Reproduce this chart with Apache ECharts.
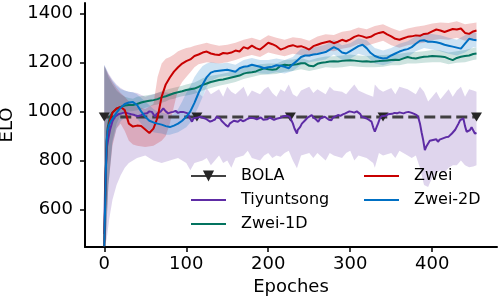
<!DOCTYPE html>
<html>
<head>
<meta charset="utf-8">
<script src="https://cdn.jsdelivr.net/npm/echarts@6/dist/echarts.min.js"></script>
<style>html,body{margin:0;padding:0;background:#fff}#c{width:500px;height:300px}</style>
</head>
<body>
<div id="c"></div>
<script>
// ---- data ----
const X_TICKS = [0, 100, 200, 300, 400];
const Y_TICKS = [600, 800, 1000, 1200, 1400];

const EPOCHS = [0,1,2,3,4,6,8,
  10,15,20,25,30,35,40,45,50,55,
  60,65,70,75,80,85,90,95,100,105,
  110,115,120,125,130,135,140,145,150,155,
  160,165,170,175,180,185,190,195,200,205,
  210,215,220,225,230,235,240,245,250,255,
  260,265,270,275,280,285,290,295,300,305,
  310,315,320,325,330,335,340,345,350,355,
  360,365,370,375,380,385,390,395,400,405,
  410,415,420,425,430,435,440,445,450,
  454];

const ZWEI = [450,610,770,875,915,950,975,
  995,1012,1018,1005,950,938,942,940,926,912,
  930,975,1060,1110,1138,1162,1180,1195,1205,1212,
  1226,1232,1240,1244,1236,1232,1230,1238,1236,1240,
  1248,1244,1262,1256,1268,1258,1252,1266,1280,1274,
  1266,1252,1258,1266,1270,1264,1266,1260,1252,1266,
  1272,1278,1282,1286,1278,1284,1292,1286,1294,1304,
  1310,1306,1300,1304,1314,1320,1324,1314,1306,1296,
  1292,1298,1304,1306,1310,1308,1316,1318,1326,1334,
  1330,1324,1330,1336,1334,1338,1320,1316,1326,
  1330];

const ZWEI_2D = [450,600,760,880,920,945,960,
  970,995,1015,1030,1036,1038,1026,1000,978,962,
  955,950,946,940,936,942,950,962,978,1000,
  1035,1075,1110,1140,1158,1164,1166,1168,1170,1166,
  1162,1176,1182,1184,1190,1186,1182,1176,1180,1182,
  1188,1186,1182,1176,1192,1206,1222,1228,1228,1232,
  1234,1238,1242,1252,1262,1254,1240,1236,1246,1256,
  1266,1272,1258,1238,1226,1220,1216,1218,1228,1236,
  1244,1250,1254,1262,1276,1288,1290,1284,1284,1282,
  1278,1272,1268,1264,1260,1256,1276,1296,1292,
  1290];

const ZWEI_1D = [450,620,780,880,930,965,985,
  995,1010,1018,1024,1026,1026,1030,1036,1040,1043,
  1046,1050,1057,1062,1068,1074,1078,1082,1087,1090,
  1093,1100,1108,1114,1120,1124,1128,1130,1134,1138,
  1142,1146,1154,1158,1160,1163,1170,1176,1172,1170,
  1172,1186,1190,1188,1190,1192,1196,1196,1186,1184,
  1194,1198,1200,1203,1204,1203,1206,1208,1209,1207,
  1205,1203,1204,1202,1203,1205,1206,1208,1210,1211,
  1210,1216,1222,1218,1216,1220,1223,1224,1226,1225,
  1224,1222,1215,1209,1218,1223,1226,1228,1234,
  1236];

const BAND_X = [0,2,5,10,15,20,25,30,35,40,50,60,65,70,75,80,85,90,95,100,105,110,115,120,125,130,
  140,150,160,170,180,190,200,210,220,230,
  240,250,260,270,280,290,300,310,320,330,
  340,350,360,370,380,390,400,410,420,430,
  440,450,454];

const ZWEI_LO = [447,500,700,860,930,950,920,880,865,860,855,860,870,880,900,950,1020,1090,1120,1140,1160,1180,1192,1196,1200,1198,
  1195,1200,1210,1222,1230,1222,1240,1232,1225,1235,
  1230,1222,1238,1248,1245,1255,1262,1275,1268,1278,
  1288,1270,1260,1270,1276,1280,1290,1295,1292,1300,
  1288,1292,1295];
const ZWEI_HI = [1185,1170,1150,1120,1095,1075,1060,1040,1025,1020,1010,1030,1140,1195,1215,1222,1232,1245,1252,1258,1262,1268,1272,1276,1280,1275,
  1268,1272,1280,1292,1300,1290,1310,1300,1292,1302,
  1298,1288,1305,1315,1312,1325,1330,1342,1335,1348,
  1355,1340,1328,1338,1345,1350,1358,1362,1360,1368,
  1355,1360,1362];

const ZWEI_2D_LO = [447,480,700,870,930,960,975,985,985,970,930,915,912,910,905,905,910,915,925,935,955,985,1020,1060,1100,1125,
  1140,1145,1138,1155,1162,1155,1152,1160,1155,1165,
  1190,1200,1205,1212,1232,1210,1215,1235,1225,1195,
  1188,1198,1212,1222,1245,1258,1252,1245,1235,1228,
  1240,1262,1260];
const ZWEI_2D_HI = [1190,1175,1150,1125,1105,1090,1085,1080,1078,1070,1040,1010,1000,995,990,985,990,1010,1040,1075,1105,1140,1165,1185,1195,1200,
  1195,1198,1190,1210,1218,1210,1210,1216,1210,1222,
  1255,1258,1264,1272,1292,1270,1278,1298,1290,1258,
  1248,1258,1276,1286,1306,1320,1316,1310,1300,1292,
  1310,1322,1320];

const ZWEI_1D_LO = [447,480,700,880,950,985,995,1000,1002,1005,1015,1025,1028,1035,1040,1048,1052,1058,1062,1065,1068,1072,1078,1085,1090,1095,
  1105,1112,1120,1132,1140,1148,1150,1152,1162,1165,
  1172,1165,1172,1180,1178,1180,1185,1182,1180,1180,
  1182,1188,1188,1195,1195,1198,1200,1200,1192,1198,
  1200,1210,1212];
const ZWEI_1D_HI = [1185,1170,1140,1110,1085,1070,1060,1055,1052,1060,1065,1070,1076,1082,1087,1092,1096,1100,1105,1110,1114,1118,1126,1135,1140,1145,
  1150,1158,1165,1178,1185,1192,1195,1195,1210,1212,
  1218,1208,1218,1224,1225,1228,1232,1228,1226,1228,
  1230,1232,1235,1240,1242,1245,1250,1248,1240,1245,
  1250,1258,1260];

const TIY_X = [0,1,3,5,7,10,13,17,21,25,
  29,33,37,41,45,48,52,55,58,62,
  64,66,69,72,75,78,81,84,87,90,
  93,96,99,102,104,107,109,111,114,117,
  120,123,126,129,132,135,137,139,141,143,
  145,148,151,153,155,158,160,163,166,169,
  172,175,178,180,183,186,188,191,194,196,
  199,202,204,207,210,212,215,218,220,223,
  226,228,230,232,235,236,239,241,243,245,
  248,250,253,255,258,261,263,266,269,271,
  274,277,279,282,285,288,291,294,296,299,
  302,305,308,310,312,314,317,320,323,326,
  328,330,332,334,336,338,340,343,346,348,
  351,354,357,360,362,365,368,371,375,378,
  381,383,385,387,389,391,393,395,397,399,
  401,403,405,407,409,411,413,415,417,420,
  421,424,426,428,430,432,434,436,438,440,
  442,444,446,448,450,452,454];
const TIYUNTSONG = [500,700,849,890,924,960,978,988,992,996,
  992,988,985,980,985,990,992,1000,998,978,
  990,992,1000,1012,1000,992,996,998,1002,994,
  998,998,995,992,975,958,972,978,975,978,
  974,971,965,958,962,967,978,985,972,962,
  958,945,937,950,958,962,955,958,966,960,
  964,970,974,978,972,968,971,975,966,964,
  968,975,971,965,970,967,974,980,978,982,
  978,965,951,930,910,925,937,950,958,964,
  975,980,985,975,968,958,970,975,978,970,
  966,964,975,980,985,982,988,992,996,1000,
  998,995,1000,998,990,978,975,971,965,958,
  935,917,935,951,970,980,985,982,988,985,
  990,994,992,996,990,992,996,998,994,990,
  985,975,951,915,883,842,858,869,880,875,
  883,878,886,876,885,882,890,886,895,897,
  892,910,905,925,931,950,964,968,971,940,
  917,925,924,935,931,910,912];

const TIY_BAND_X = [0,3,6,10,15,20,25,30,40,50,
  60,70,80,90,100,105,110,120,125,130,
  140,145,150,155,160,170,175,180,190,195,
  200,205,210,215,220,225,230,235,240,250,
  255,260,270,275,280,290,295,300,305,310,
  320,328,330,335,340,350,355,360,370,375,
  380,385,390,395,400,405,410,415,420,425,
  430,435,440,445,450,454];
const TIY_LO = [447,480,560,640,700,740,770,790,810,820,
  800,790,800,810,790,760,790,800,810,780,
  820,790,800,770,810,820,840,810,800,820,
  830,810,820,815,830,840,800,768,820,830,
  810,830,800,830,820,810,830,840,800,820,
  810,790,770,830,820,830,810,840,820,810,
  820,770,700,692,730,750,760,750,770,780,
  780,800,780,772,775,780];
const TIY_HI = [1190,1170,1150,1130,1110,1095,1085,1080,1075,1060,
  1070,1080,1075,1070,1085,1100,1090,1060,1095,1070,
  1090,1060,1100,1080,1070,1100,1060,1085,1070,1090,
  1100,1075,1060,1090,1080,1110,1070,1060,1085,1100,
  1075,1090,1070,1100,1085,1080,1070,1090,1110,1085,
  1070,1060,1110,1090,1080,1095,1070,1100,1090,1080,
  1070,1100,1080,1040,1060,1080,1050,1070,1090,1060,
  1085,1100,1060,1090,1085,1080];

const BOLA_X = [0, 113, 227, 340, 454];
const BOLA_ELO = 977;

// ---- chart ----
const FONT = 'DejaVu Sans';
const C_ZWEI = '#c80000', C_2D = '#0070c4', C_1D = '#03735f', C_TIY = '#5e2ca5', C_BOLA = '#383838';

function pairs(xs, ys) { return xs.map((x, i) => [x, ys[i]]); }

function band(name, xs, lo, hi, fill) {
  return {
    type: 'custom', name: name, silent: true, z: 1,
    data: [[xs[0], lo[0]]],
    renderItem: function (params, api) {
      if (params.dataIndex !== 0) return null;
      const pts = [];
      for (let i = 0; i < xs.length; i++) pts.push(api.coord([xs[i], hi[i]]));
      for (let i = xs.length - 1; i >= 0; i--) pts.push(api.coord([xs[i], lo[i]]));
      return { type: 'polygon', shape: { points: pts }, style: { fill: fill } };
    }
  };
}

function line(name, xs, ys, color) {
  return {
    type: 'line', name: name, data: pairs(xs, ys), z: 3,
    symbol: 'circle', showSymbol: false, animation: false,
    lineStyle: { color: color, width: 2 }, itemStyle: { color: color }
  };
}

const legendText = { fontSize: 16, fontFamily: FONT, color: '#000', lineHeight: 16, padding: [0, 0, 0, 10] };
const HIDE_SYM = { color: 'rgba(0,0,0,0)', borderWidth: 0, borderColor: 'rgba(0,0,0,0)' };

const option = {
  animation: false,
  backgroundColor: '#fff',
  grid: { left: 85, right: 3, top: 3, bottom: 53, containLabel: false, outerBoundsMode: 'none' },
  legend: [
    { data: [
        { name: 'BOLA', lineStyle: { type: 'solid' } },
        { name: 'Tiyuntsong', itemStyle: HIDE_SYM },
        { name: 'Zwei-1D', itemStyle: HIDE_SYM }
      ], orient: 'vertical', left: 190, top: 168, padding: 0,
      itemWidth: 35, itemHeight: 14, itemGap: 8, textStyle: legendText, selectedMode: false },
    { data: [
        { name: 'Zwei', itemStyle: HIDE_SYM },
        { name: 'Zwei-2D', itemStyle: HIDE_SYM }
      ], orient: 'vertical', left: 363, top: 168, padding: 0,
      itemWidth: 35, itemHeight: 14, itemGap: 8, textStyle: legendText, selectedMode: false }
  ],
  xAxis: {
    type: 'value', min: -23.5, max: 479,
    name: 'Epoches', nameLocation: 'middle', nameGap: 31,
    nameTextStyle: { fontSize: 18, fontFamily: FONT, color: '#000' },
    axisLine: { show: true, onZero: false, lineStyle: { color: '#000', width: 2 } },
    axisTick: { show: true, length: 5, lineStyle: { color: '#000', width: 1.5 }, customValues: X_TICKS },
    axisLabel: { fontSize: 18, fontFamily: FONT, color: '#000', margin: 8, customValues: X_TICKS,
      formatter: v => String(v) },
    splitLine: { show: false }
  },
  yAxis: {
    type: 'value', min: 447, max: 1442,
    name: 'ELO', nameLocation: 'middle', nameGap: 55,
    nameTextStyle: { fontSize: 18, fontFamily: FONT, color: '#000' },
    axisLine: { show: true, onZero: false, lineStyle: { color: '#000', width: 2 } },
    axisTick: { show: true, length: 5, lineStyle: { color: '#000', width: 1.5 }, customValues: Y_TICKS },
    axisLabel: { fontSize: 18, fontFamily: FONT, color: '#000', margin: 12, customValues: Y_TICKS,
      formatter: v => String(v) },
    splitLine: { show: false }
  },
  series: [
    band('tiyBand', TIY_BAND_X, TIY_LO, TIY_HI, 'rgba(94,44,165,0.2)'),
    band('zwei1dBand', BAND_X, ZWEI_1D_LO, ZWEI_1D_HI, 'rgba(3,115,95,0.2)'),
    band('zweiBand', BAND_X, ZWEI_LO, ZWEI_HI, 'rgba(200,0,0,0.2)'),
    band('zwei2dBand', BAND_X, ZWEI_2D_LO, ZWEI_2D_HI, 'rgba(0,112,196,0.2)'),
    {
      type: 'line', name: 'BOLA', z: 2, data: BOLA_X.map(x => [x, BOLA_ELO]),
      symbol: 'triangle', symbolRotate: 180, symbolSize: [11, 9], showSymbol: true,
      lineStyle: { color: C_BOLA, width: 3, type: [11, 5], opacity: 0.95 },
      itemStyle: { color: '#262626' }
    },
    line('Tiyuntsong', TIY_X, TIYUNTSONG, C_TIY),
    line('Zwei-1D', EPOCHS, ZWEI_1D, C_1D),
    line('Zwei', EPOCHS, ZWEI, C_ZWEI),
    line('Zwei-2D', EPOCHS, ZWEI_2D, C_2D)
  ]
};

const chart = echarts.init(document.getElementById('c'), null, { renderer: 'canvas' });
chart.setOption(option);
</script>
</body>
</html>
